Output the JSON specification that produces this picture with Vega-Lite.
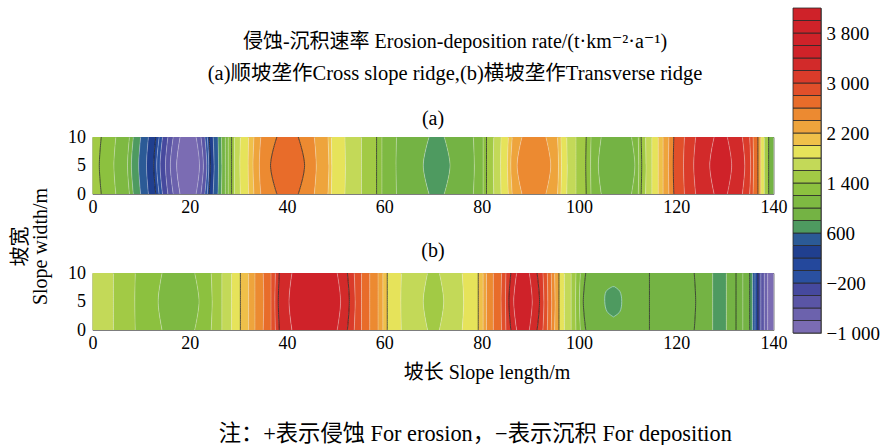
{
"$schema":"https://vega.github.io/schema/vega-lite/v6.json",
"padding":{"left":10,"top":7,"right":0,"bottom":0},
"config":{
 "font":"Liberation Serif, Noto Sans CJK SC, DejaVu Serif",
 "view":{"stroke":"#7d7d7d","strokeWidth":1},
 "axis":{"labelFont":"Liberation Serif, Noto Sans CJK SC, DejaVu Serif","labelFontSize":18,"labelColor":"#000","titleFont":"Liberation Serif, Noto Sans CJK SC, DejaVu Serif","titleFontSize":20,"titleFontWeight":"normal","titleColor":"#000","grid":false,"ticks":false,"tickSize":0,"domain":false,"labelPadding":4,"labelFlush":false},
 "title":{"font":"Liberation Serif, Noto Sans CJK SC, DejaVu Serif","fontWeight":"normal","color":"#000","subtitleFont":"Liberation Serif, Noto Sans CJK SC, DejaVu Serif","subtitleColor":"#000"}
},
"title":{"text":"注：+表示侵蚀 For erosion，−表示沉积 For deposition","orient":"bottom","anchor":"middle","fontSize":22.3,"offset":40,"dx":30},
"datasets":{
"a":[
{"b":0,"y":0,"x":0,"v":1400,"c":"n"},{"b":0,"y":5,"x":0,"v":1400,"c":"n"},{"b":0,"y":10,"x":0,"v":1400,"c":"n"},
{"b":1,"y":0,"x":1.8,"v":1200,"c":"k"},{"b":1,"y":5,"x":1.4,"v":1200,"c":"k"},{"b":1,"y":10,"x":1.8,"v":1200,"c":"k"},
{"b":2,"y":0,"x":4.8,"v":1000,"c":"l"},{"b":2,"y":5,"x":4.4,"v":1000,"c":"l"},{"b":2,"y":10,"x":4.8,"v":1000,"c":"l"},
{"b":3,"y":0,"x":7.6,"v":800,"c":"l"},{"b":3,"y":5,"x":7.2,"v":800,"c":"l"},{"b":3,"y":10,"x":7.6,"v":800,"c":"l"},
{"b":4,"y":0,"x":8.4,"v":600,"c":"l"},{"b":4,"y":5,"x":8.0,"v":600,"c":"l"},{"b":4,"y":10,"x":8.4,"v":600,"c":"l"},
{"b":5,"y":0,"x":9.9,"v":400,"c":"l"},{"b":5,"y":5,"x":9.5,"v":400,"c":"l"},{"b":5,"y":10,"x":9.9,"v":400,"c":"l"},
{"b":6,"y":0,"x":11.5,"v":200,"c":"l"},{"b":6,"y":5,"x":11.1,"v":200,"c":"l"},{"b":6,"y":10,"x":11.5,"v":200,"c":"l"},
{"b":7,"y":0,"x":13.0,"v":0,"c":"k"},{"b":7,"y":5,"x":12.6,"v":0,"c":"k"},{"b":7,"y":10,"x":13.0,"v":0,"c":"k"},
{"b":8,"y":0,"x":13.7,"v":-200,"c":"l"},{"b":8,"y":5,"x":13.2,"v":-200,"c":"l"},{"b":8,"y":10,"x":13.7,"v":-200,"c":"l"},
{"b":9,"y":0,"x":14.4,"v":-400,"c":"l"},{"b":9,"y":5,"x":13.9,"v":-400,"c":"l"},{"b":9,"y":10,"x":14.4,"v":-400,"c":"l"},
{"b":10,"y":0,"x":15.5,"v":-600,"c":"l"},{"b":10,"y":5,"x":15.0,"v":-600,"c":"l"},{"b":10,"y":10,"x":15.5,"v":-600,"c":"l"},
{"b":11,"y":0,"x":16.6,"v":-800,"c":"l"},{"b":11,"y":5,"x":16.0,"v":-800,"c":"l"},{"b":11,"y":10,"x":16.6,"v":-800,"c":"l"},
{"b":12,"y":0,"x":18.0,"v":-1000,"c":"l"},{"b":12,"y":5,"x":17.3,"v":-1000,"c":"l"},{"b":12,"y":10,"x":18.0,"v":-1000,"c":"l"},
{"b":13,"y":0,"x":21.3,"v":-800,"c":"l"},{"b":13,"y":5,"x":22.0,"v":-800,"c":"l"},{"b":13,"y":10,"x":21.3,"v":-800,"c":"l"},
{"b":14,"y":0,"x":22.3,"v":-600,"c":"l"},{"b":14,"y":5,"x":22.8,"v":-600,"c":"l"},{"b":14,"y":10,"x":22.3,"v":-600,"c":"l"},
{"b":15,"y":0,"x":23.1,"v":-200,"c":"l"},{"b":15,"y":5,"x":23.5,"v":-200,"c":"l"},{"b":15,"y":10,"x":23.1,"v":-200,"c":"l"},
{"b":16,"y":0,"x":23.6,"v":0,"c":"l"},{"b":16,"y":5,"x":23.9,"v":0,"c":"l"},{"b":16,"y":10,"x":23.6,"v":0,"c":"l"},
{"b":17,"y":0,"x":24.0,"v":200,"c":"k"},{"b":17,"y":5,"x":24.2,"v":200,"c":"k"},{"b":17,"y":10,"x":24.0,"v":200,"c":"k"},
{"b":18,"y":0,"x":24.8,"v":400,"c":"l"},{"b":18,"y":5,"x":25.0,"v":400,"c":"l"},{"b":18,"y":10,"x":24.8,"v":400,"c":"l"},
{"b":19,"y":0,"x":25.8,"v":600,"c":"l"},{"b":19,"y":5,"x":25.9,"v":600,"c":"l"},{"b":19,"y":10,"x":25.8,"v":600,"c":"l"},
{"b":20,"y":0,"x":26.5,"v":800,"c":"l"},{"b":20,"y":5,"x":26.6,"v":800,"c":"l"},{"b":20,"y":10,"x":26.5,"v":800,"c":"l"},
{"b":21,"y":0,"x":27.3,"v":1000,"c":"l"},{"b":21,"y":5,"x":27.3,"v":1000,"c":"l"},{"b":21,"y":10,"x":27.3,"v":1000,"c":"l"},
{"b":22,"y":0,"x":27.9,"v":1200,"c":"l"},{"b":22,"y":5,"x":27.9,"v":1200,"c":"l"},{"b":22,"y":10,"x":27.9,"v":1200,"c":"l"},
{"b":23,"y":0,"x":28.6,"v":1400,"c":"k"},{"b":23,"y":5,"x":28.6,"v":1400,"c":"k"},{"b":23,"y":10,"x":28.6,"v":1400,"c":"k"},
{"b":24,"y":0,"x":29.2,"v":1600,"c":"l"},{"b":24,"y":5,"x":29.2,"v":1600,"c":"l"},{"b":24,"y":10,"x":29.2,"v":1600,"c":"l"},
{"b":25,"y":0,"x":30.4,"v":1800,"c":"l"},{"b":25,"y":5,"x":30.3,"v":1800,"c":"l"},{"b":25,"y":10,"x":30.4,"v":1800,"c":"l"},
{"b":26,"y":0,"x":32.1,"v":2000,"c":"l"},{"b":26,"y":5,"x":32.0,"v":2000,"c":"l"},{"b":26,"y":10,"x":32.1,"v":2000,"c":"l"},
{"b":27,"y":0,"x":33.2,"v":2200,"c":"l"},{"b":27,"y":5,"x":33.0,"v":2200,"c":"l"},{"b":27,"y":10,"x":33.2,"v":2200,"c":"l"},
{"b":28,"y":0,"x":34.6,"v":2400,"c":"l"},{"b":28,"y":5,"x":34.3,"v":2400,"c":"l"},{"b":28,"y":10,"x":34.6,"v":2400,"c":"l"},
{"b":29,"y":0,"x":37.9,"v":2600,"c":"k"},{"b":29,"y":5,"x":36.6,"v":2600,"c":"k"},{"b":29,"y":10,"x":37.9,"v":2600,"c":"k"},
{"b":30,"y":0,"x":42.3,"v":2400,"c":"k"},{"b":30,"y":5,"x":43.6,"v":2400,"c":"k"},{"b":30,"y":10,"x":42.3,"v":2400,"c":"k"},
{"b":31,"y":0,"x":45.6,"v":2200,"c":"l"},{"b":31,"y":5,"x":46.0,"v":2200,"c":"l"},{"b":31,"y":10,"x":45.6,"v":2200,"c":"l"},
{"b":32,"y":0,"x":48.4,"v":2000,"c":"l"},{"b":32,"y":5,"x":48.6,"v":2000,"c":"l"},{"b":32,"y":10,"x":48.4,"v":2000,"c":"l"},
{"b":33,"y":0,"x":49.1,"v":1800,"c":"l"},{"b":33,"y":5,"x":49.2,"v":1800,"c":"l"},{"b":33,"y":10,"x":49.1,"v":1800,"c":"l"},
{"b":34,"y":0,"x":51.9,"v":1600,"c":"l"},{"b":34,"y":5,"x":52.0,"v":1600,"c":"l"},{"b":34,"y":10,"x":51.9,"v":1600,"c":"l"},
{"b":35,"y":0,"x":55.3,"v":1400,"c":"l"},{"b":35,"y":5,"x":55.3,"v":1400,"c":"l"},{"b":35,"y":10,"x":55.3,"v":1400,"c":"l"},
{"b":36,"y":0,"x":58.4,"v":1200,"c":"k"},{"b":36,"y":5,"x":58.4,"v":1200,"c":"k"},{"b":36,"y":10,"x":58.4,"v":1200,"c":"k"},
{"b":37,"y":0,"x":59.5,"v":1000,"c":"l"},{"b":37,"y":5,"x":59.5,"v":1000,"c":"l"},{"b":37,"y":10,"x":59.5,"v":1000,"c":"l"},
{"b":38,"y":0,"x":62.5,"v":800,"c":"l"},{"b":38,"y":5,"x":62.4,"v":800,"c":"l"},{"b":38,"y":10,"x":62.5,"v":800,"c":"l"},
{"b":39,"y":0,"x":69.2,"v":600,"c":"l"},{"b":39,"y":5,"x":68.0,"v":600,"c":"l"},{"b":39,"y":10,"x":69.2,"v":600,"c":"l"},
{"b":40,"y":0,"x":72.3,"v":800,"c":"l"},{"b":40,"y":5,"x":73.5,"v":800,"c":"l"},{"b":40,"y":10,"x":72.3,"v":800,"c":"l"},
{"b":41,"y":0,"x":78.3,"v":1000,"c":"l"},{"b":41,"y":5,"x":78.5,"v":1000,"c":"l"},{"b":41,"y":10,"x":78.3,"v":1000,"c":"l"},
{"b":42,"y":0,"x":80.3,"v":1200,"c":"l"},{"b":42,"y":5,"x":80.3,"v":1200,"c":"l"},{"b":42,"y":10,"x":80.3,"v":1200,"c":"l"},
{"b":43,"y":0,"x":81.0,"v":1400,"c":"k"},{"b":43,"y":5,"x":81.0,"v":1400,"c":"k"},{"b":43,"y":10,"x":81.0,"v":1400,"c":"k"},
{"b":44,"y":0,"x":82.5,"v":1600,"c":"l"},{"b":44,"y":5,"x":82.4,"v":1600,"c":"l"},{"b":44,"y":10,"x":82.5,"v":1600,"c":"l"},
{"b":45,"y":0,"x":84.0,"v":1800,"c":"l"},{"b":45,"y":5,"x":83.9,"v":1800,"c":"l"},{"b":45,"y":10,"x":84.0,"v":1800,"c":"l"},
{"b":46,"y":0,"x":85.5,"v":2000,"c":"l"},{"b":46,"y":5,"x":85.3,"v":2000,"c":"l"},{"b":46,"y":10,"x":85.5,"v":2000,"c":"l"},
{"b":47,"y":0,"x":86.3,"v":2200,"c":"l"},{"b":47,"y":5,"x":86.0,"v":2200,"c":"l"},{"b":47,"y":10,"x":86.3,"v":2200,"c":"l"},
{"b":48,"y":0,"x":88.3,"v":2400,"c":"l"},{"b":48,"y":5,"x":87.3,"v":2400,"c":"l"},{"b":48,"y":10,"x":88.3,"v":2400,"c":"l"},
{"b":49,"y":0,"x":93.2,"v":2200,"c":"l"},{"b":49,"y":5,"x":94.2,"v":2200,"c":"l"},{"b":49,"y":10,"x":93.2,"v":2200,"c":"l"},
{"b":50,"y":0,"x":95.6,"v":2000,"c":"l"},{"b":50,"y":5,"x":95.8,"v":2000,"c":"l"},{"b":50,"y":10,"x":95.6,"v":2000,"c":"l"},
{"b":51,"y":0,"x":96.3,"v":1800,"c":"l"},{"b":51,"y":5,"x":96.4,"v":1800,"c":"l"},{"b":51,"y":10,"x":96.3,"v":1800,"c":"l"},
{"b":52,"y":0,"x":97.5,"v":1600,"c":"l"},{"b":52,"y":5,"x":97.6,"v":1600,"c":"l"},{"b":52,"y":10,"x":97.5,"v":1600,"c":"l"},
{"b":53,"y":0,"x":99.4,"v":1400,"c":"l"},{"b":53,"y":5,"x":99.4,"v":1400,"c":"l"},{"b":53,"y":10,"x":99.4,"v":1400,"c":"l"},
{"b":54,"y":0,"x":101.5,"v":1200,"c":"k"},{"b":54,"y":5,"x":101.4,"v":1200,"c":"k"},{"b":54,"y":10,"x":101.5,"v":1200,"c":"k"},
{"b":55,"y":0,"x":102.5,"v":1000,"c":"l"},{"b":55,"y":5,"x":102.4,"v":1000,"c":"l"},{"b":55,"y":10,"x":102.5,"v":1000,"c":"l"},
{"b":56,"y":0,"x":104.6,"v":800,"c":"l"},{"b":56,"y":5,"x":104.0,"v":800,"c":"l"},{"b":56,"y":10,"x":104.6,"v":800,"c":"l"},
{"b":57,"y":0,"x":110.8,"v":1000,"c":"l"},{"b":57,"y":5,"x":111.5,"v":1000,"c":"l"},{"b":57,"y":10,"x":110.8,"v":1000,"c":"l"},
{"b":58,"y":0,"x":112.2,"v":1200,"c":"l"},{"b":58,"y":5,"x":112.3,"v":1200,"c":"l"},{"b":58,"y":10,"x":112.2,"v":1200,"c":"l"},
{"b":59,"y":0,"x":112.8,"v":1400,"c":"k"},{"b":59,"y":5,"x":112.9,"v":1400,"c":"k"},{"b":59,"y":10,"x":112.8,"v":1400,"c":"k"},
{"b":60,"y":0,"x":113.7,"v":1600,"c":"l"},{"b":60,"y":5,"x":113.8,"v":1600,"c":"l"},{"b":60,"y":10,"x":113.7,"v":1600,"c":"l"},
{"b":61,"y":0,"x":115.0,"v":1800,"c":"l"},{"b":61,"y":5,"x":115.0,"v":1800,"c":"l"},{"b":61,"y":10,"x":115.0,"v":1800,"c":"l"},
{"b":62,"y":0,"x":116.3,"v":2000,"c":"l"},{"b":62,"y":5,"x":116.3,"v":2000,"c":"l"},{"b":62,"y":10,"x":116.3,"v":2000,"c":"l"},
{"b":63,"y":0,"x":117.3,"v":2200,"c":"l"},{"b":63,"y":5,"x":117.3,"v":2200,"c":"l"},{"b":63,"y":10,"x":117.3,"v":2200,"c":"l"},
{"b":64,"y":0,"x":118.5,"v":2400,"c":"l"},{"b":64,"y":5,"x":118.4,"v":2400,"c":"l"},{"b":64,"y":10,"x":118.5,"v":2400,"c":"l"},
{"b":65,"y":0,"x":119.5,"v":2800,"c":"k"},{"b":65,"y":5,"x":119.4,"v":2800,"c":"k"},{"b":65,"y":10,"x":119.5,"v":2800,"c":"k"},
{"b":66,"y":0,"x":121.7,"v":3000,"c":"l"},{"b":66,"y":5,"x":121.5,"v":3000,"c":"l"},{"b":66,"y":10,"x":121.7,"v":3000,"c":"l"},
{"b":67,"y":0,"x":124.0,"v":3200,"c":"l"},{"b":67,"y":5,"x":123.6,"v":3200,"c":"l"},{"b":67,"y":10,"x":124.0,"v":3200,"c":"l"},
{"b":68,"y":0,"x":127.8,"v":3400,"c":"l"},{"b":68,"y":5,"x":126.9,"v":3400,"c":"l"},{"b":68,"y":10,"x":127.8,"v":3400,"c":"l"},
{"b":69,"y":0,"x":130.5,"v":3200,"c":"l"},{"b":69,"y":5,"x":131.4,"v":3200,"c":"l"},{"b":69,"y":10,"x":130.5,"v":3200,"c":"l"},
{"b":70,"y":0,"x":133.6,"v":3000,"c":"l"},{"b":70,"y":5,"x":134.1,"v":3000,"c":"l"},{"b":70,"y":10,"x":133.6,"v":3000,"c":"l"},
{"b":71,"y":0,"x":135.1,"v":2800,"c":"l"},{"b":71,"y":5,"x":135.3,"v":2800,"c":"l"},{"b":71,"y":10,"x":135.1,"v":2800,"c":"l"},
{"b":72,"y":0,"x":135.8,"v":2600,"c":"l"},{"b":72,"y":5,"x":135.9,"v":2600,"c":"l"},{"b":72,"y":10,"x":135.8,"v":2600,"c":"l"},
{"b":73,"y":0,"x":136.8,"v":2200,"c":"k"},{"b":73,"y":5,"x":136.8,"v":2200,"c":"k"},{"b":73,"y":10,"x":136.8,"v":2200,"c":"k"},
{"b":74,"y":0,"x":137.4,"v":1800,"c":"l"},{"b":74,"y":5,"x":137.4,"v":1800,"c":"l"},{"b":74,"y":10,"x":137.4,"v":1800,"c":"l"},
{"b":75,"y":0,"x":138.1,"v":1400,"c":"l"},{"b":75,"y":5,"x":138.1,"v":1400,"c":"l"},{"b":75,"y":10,"x":138.1,"v":1400,"c":"l"},
{"b":76,"y":0,"x":139.0,"v":800,"c":"k"},{"b":76,"y":5,"x":139.0,"v":800,"c":"k"},{"b":76,"y":10,"x":139.0,"v":800,"c":"k"},
{"b":77,"y":0,"x":140,"v":800,"c":"n"},{"b":77,"y":5,"x":140,"v":800,"c":"n"},{"b":77,"y":10,"x":140,"v":800,"c":"n"}
],
"b":[
{"b":0,"y":0,"x":0,"v":1600,"c":"n"},{"b":0,"y":5,"x":0,"v":1600,"c":"n"},{"b":0,"y":10,"x":0,"v":1600,"c":"n"},
{"b":1,"y":0,"x":4.3,"v":1400,"c":"l"},{"b":1,"y":5,"x":4.3,"v":1400,"c":"l"},{"b":1,"y":10,"x":4.3,"v":1400,"c":"l"},
{"b":2,"y":0,"x":8.8,"v":1200,"c":"l"},{"b":2,"y":5,"x":8.7,"v":1200,"c":"l"},{"b":2,"y":10,"x":8.8,"v":1200,"c":"l"},
{"b":3,"y":0,"x":14.3,"v":1000,"c":"l"},{"b":3,"y":5,"x":13.5,"v":1000,"c":"l"},{"b":3,"y":10,"x":14.3,"v":1000,"c":"l"},
{"b":4,"y":0,"x":21.0,"v":1200,"c":"l"},{"b":4,"y":5,"x":21.9,"v":1200,"c":"l"},{"b":4,"y":10,"x":21.0,"v":1200,"c":"l"},
{"b":5,"y":0,"x":24.4,"v":1400,"c":"l"},{"b":5,"y":5,"x":24.6,"v":1400,"c":"l"},{"b":5,"y":10,"x":24.4,"v":1400,"c":"l"},
{"b":6,"y":0,"x":26.6,"v":1600,"c":"l"},{"b":6,"y":5,"x":26.6,"v":1600,"c":"l"},{"b":6,"y":10,"x":26.6,"v":1600,"c":"l"},
{"b":7,"y":0,"x":28.6,"v":1800,"c":"l"},{"b":7,"y":5,"x":28.6,"v":1800,"c":"l"},{"b":7,"y":10,"x":28.6,"v":1800,"c":"l"},
{"b":8,"y":0,"x":30.4,"v":2000,"c":"k"},{"b":8,"y":5,"x":30.4,"v":2000,"c":"k"},{"b":8,"y":10,"x":30.4,"v":2000,"c":"k"},
{"b":9,"y":0,"x":32.1,"v":2200,"c":"l"},{"b":9,"y":5,"x":32.1,"v":2200,"c":"l"},{"b":9,"y":10,"x":32.1,"v":2200,"c":"l"},
{"b":10,"y":0,"x":33.4,"v":2400,"c":"l"},{"b":10,"y":5,"x":33.4,"v":2400,"c":"l"},{"b":10,"y":10,"x":33.4,"v":2400,"c":"l"},
{"b":11,"y":0,"x":35.1,"v":2600,"c":"l"},{"b":11,"y":5,"x":35.2,"v":2600,"c":"l"},{"b":11,"y":10,"x":35.1,"v":2600,"c":"l"},
{"b":12,"y":0,"x":36.7,"v":2800,"c":"l"},{"b":12,"y":5,"x":36.7,"v":2800,"c":"l"},{"b":12,"y":10,"x":36.7,"v":2800,"c":"l"},
{"b":13,"y":0,"x":37.6,"v":3000,"c":"l"},{"b":13,"y":5,"x":37.5,"v":3000,"c":"l"},{"b":13,"y":10,"x":37.6,"v":3000,"c":"l"},
{"b":14,"y":0,"x":38.4,"v":3200,"c":"k"},{"b":14,"y":5,"x":38.2,"v":3200,"c":"k"},{"b":14,"y":10,"x":38.4,"v":3200,"c":"k"},
{"b":15,"y":0,"x":41.0,"v":3400,"c":"l"},{"b":15,"y":5,"x":40.4,"v":3400,"c":"l"},{"b":15,"y":10,"x":41.0,"v":3400,"c":"l"},
{"b":16,"y":0,"x":50.3,"v":3200,"c":"l"},{"b":16,"y":5,"x":51.0,"v":3200,"c":"l"},{"b":16,"y":10,"x":50.3,"v":3200,"c":"l"},
{"b":17,"y":0,"x":52.4,"v":3000,"c":"k"},{"b":17,"y":5,"x":52.8,"v":3000,"c":"k"},{"b":17,"y":10,"x":52.4,"v":3000,"c":"k"},
{"b":18,"y":0,"x":53.8,"v":2800,"c":"l"},{"b":18,"y":5,"x":54.0,"v":2800,"c":"l"},{"b":18,"y":10,"x":53.8,"v":2800,"c":"l"},
{"b":19,"y":0,"x":55.3,"v":2600,"c":"l"},{"b":19,"y":5,"x":55.3,"v":2600,"c":"l"},{"b":19,"y":10,"x":55.3,"v":2600,"c":"l"},
{"b":20,"y":0,"x":57.0,"v":2400,"c":"l"},{"b":20,"y":5,"x":57.0,"v":2400,"c":"l"},{"b":20,"y":10,"x":57.0,"v":2400,"c":"l"},
{"b":21,"y":0,"x":58.7,"v":2200,"c":"l"},{"b":21,"y":5,"x":58.7,"v":2200,"c":"l"},{"b":21,"y":10,"x":58.7,"v":2200,"c":"l"},
{"b":22,"y":0,"x":59.7,"v":2000,"c":"l"},{"b":22,"y":5,"x":59.7,"v":2000,"c":"l"},{"b":22,"y":10,"x":59.7,"v":2000,"c":"l"},
{"b":23,"y":0,"x":60.6,"v":1800,"c":"k"},{"b":23,"y":5,"x":60.6,"v":1800,"c":"k"},{"b":23,"y":10,"x":60.6,"v":1800,"c":"k"},
{"b":24,"y":0,"x":63.5,"v":1600,"c":"l"},{"b":24,"y":5,"x":63.4,"v":1600,"c":"l"},{"b":24,"y":10,"x":63.5,"v":1600,"c":"l"},
{"b":25,"y":0,"x":68.9,"v":1400,"c":"l"},{"b":25,"y":5,"x":68.0,"v":1400,"c":"l"},{"b":25,"y":10,"x":68.9,"v":1400,"c":"l"},
{"b":26,"y":0,"x":71.3,"v":1600,"c":"l"},{"b":26,"y":5,"x":72.2,"v":1600,"c":"l"},{"b":26,"y":10,"x":71.3,"v":1600,"c":"l"},
{"b":27,"y":0,"x":76.0,"v":1800,"c":"l"},{"b":27,"y":5,"x":76.3,"v":1800,"c":"l"},{"b":27,"y":10,"x":76.0,"v":1800,"c":"l"},
{"b":28,"y":0,"x":79.3,"v":2000,"c":"k"},{"b":28,"y":5,"x":79.3,"v":2000,"c":"k"},{"b":28,"y":10,"x":79.3,"v":2000,"c":"k"},
{"b":29,"y":0,"x":80.3,"v":2200,"c":"l"},{"b":29,"y":5,"x":80.3,"v":2200,"c":"l"},{"b":29,"y":10,"x":80.3,"v":2200,"c":"l"},
{"b":30,"y":0,"x":81.0,"v":2400,"c":"l"},{"b":30,"y":5,"x":81.0,"v":2400,"c":"l"},{"b":30,"y":10,"x":81.0,"v":2400,"c":"l"},
{"b":31,"y":0,"x":82.4,"v":2600,"c":"l"},{"b":31,"y":5,"x":82.4,"v":2600,"c":"l"},{"b":31,"y":10,"x":82.4,"v":2600,"c":"l"},
{"b":32,"y":0,"x":84.1,"v":2800,"c":"l"},{"b":32,"y":5,"x":84.0,"v":2800,"c":"l"},{"b":32,"y":10,"x":84.1,"v":2800,"c":"l"},
{"b":33,"y":0,"x":85.0,"v":3000,"c":"l"},{"b":33,"y":5,"x":84.9,"v":3000,"c":"l"},{"b":33,"y":10,"x":85.0,"v":3000,"c":"l"},
{"b":34,"y":0,"x":86.0,"v":3200,"c":"k"},{"b":34,"y":5,"x":85.6,"v":3200,"c":"k"},{"b":34,"y":10,"x":86.0,"v":3200,"c":"k"},
{"b":35,"y":0,"x":87.2,"v":3400,"c":"l"},{"b":35,"y":5,"x":86.6,"v":3400,"c":"l"},{"b":35,"y":10,"x":87.2,"v":3400,"c":"l"},
{"b":36,"y":0,"x":89.8,"v":3200,"c":"l"},{"b":36,"y":5,"x":90.4,"v":3200,"c":"l"},{"b":36,"y":10,"x":89.8,"v":3200,"c":"l"},
{"b":37,"y":0,"x":91.4,"v":3000,"c":"k"},{"b":37,"y":5,"x":91.9,"v":3000,"c":"k"},{"b":37,"y":10,"x":91.4,"v":3000,"c":"k"},
{"b":38,"y":0,"x":92.6,"v":2800,"c":"l"},{"b":38,"y":5,"x":92.8,"v":2800,"c":"l"},{"b":38,"y":10,"x":92.6,"v":2800,"c":"l"},
{"b":39,"y":0,"x":93.5,"v":2600,"c":"l"},{"b":39,"y":5,"x":93.6,"v":2600,"c":"l"},{"b":39,"y":10,"x":93.5,"v":2600,"c":"l"},
{"b":40,"y":0,"x":94.3,"v":2400,"c":"l"},{"b":40,"y":5,"x":94.4,"v":2400,"c":"l"},{"b":40,"y":10,"x":94.3,"v":2400,"c":"l"},
{"b":41,"y":0,"x":95.0,"v":2200,"c":"l"},{"b":41,"y":5,"x":95.1,"v":2200,"c":"l"},{"b":41,"y":10,"x":95.0,"v":2200,"c":"l"},
{"b":42,"y":0,"x":95.9,"v":1800,"c":"k"},{"b":42,"y":5,"x":95.9,"v":1800,"c":"k"},{"b":42,"y":10,"x":95.9,"v":1800,"c":"k"},
{"b":43,"y":0,"x":97.0,"v":1600,"c":"l"},{"b":43,"y":5,"x":97.0,"v":1600,"c":"l"},{"b":43,"y":10,"x":97.0,"v":1600,"c":"l"},
{"b":44,"y":0,"x":98.4,"v":1400,"c":"l"},{"b":44,"y":5,"x":98.4,"v":1400,"c":"l"},{"b":44,"y":10,"x":98.4,"v":1400,"c":"l"},
{"b":45,"y":0,"x":99.4,"v":1200,"c":"l"},{"b":45,"y":5,"x":99.3,"v":1200,"c":"l"},{"b":45,"y":10,"x":99.4,"v":1200,"c":"l"},
{"b":46,"y":0,"x":100.3,"v":1000,"c":"l"},{"b":46,"y":5,"x":100.1,"v":1000,"c":"l"},{"b":46,"y":10,"x":100.3,"v":1000,"c":"l"},
{"b":47,"y":0,"x":101.4,"v":800,"c":"k"},{"b":47,"y":5,"x":100.9,"v":800,"c":"k"},{"b":47,"y":10,"x":101.4,"v":800,"c":"k"},
{"b":48,"y":0,"x":114.5,"v":800,"c":"k"},{"b":48,"y":5,"x":114.5,"v":800,"c":"k"},{"b":48,"y":10,"x":114.5,"v":800,"c":"k"},
{"b":49,"y":0,"x":123.7,"v":800,"c":"k"},{"b":49,"y":5,"x":124.0,"v":800,"c":"k"},{"b":49,"y":10,"x":123.7,"v":800,"c":"k"},
{"b":50,"y":0,"x":127.5,"v":600,"c":"l"},{"b":50,"y":5,"x":127.5,"v":600,"c":"l"},{"b":50,"y":10,"x":127.5,"v":600,"c":"l"},
{"b":51,"y":0,"x":130.3,"v":800,"c":"l"},{"b":51,"y":5,"x":130.3,"v":800,"c":"l"},{"b":51,"y":10,"x":130.3,"v":800,"c":"l"},
{"b":52,"y":0,"x":132.3,"v":800,"c":"k"},{"b":52,"y":5,"x":132.3,"v":800,"c":"k"},{"b":52,"y":10,"x":132.3,"v":800,"c":"k"},
{"b":53,"y":0,"x":133.7,"v":800,"c":"l"},{"b":53,"y":5,"x":133.7,"v":800,"c":"l"},{"b":53,"y":10,"x":133.7,"v":800,"c":"l"},
{"b":54,"y":0,"x":135.1,"v":600,"c":"k"},{"b":54,"y":5,"x":135.1,"v":600,"c":"k"},{"b":54,"y":10,"x":135.1,"v":600,"c":"k"},
{"b":55,"y":0,"x":135.7,"v":400,"c":"l"},{"b":55,"y":5,"x":135.7,"v":400,"c":"l"},{"b":55,"y":10,"x":135.7,"v":400,"c":"l"},
{"b":56,"y":0,"x":136.2,"v":0,"c":"l"},{"b":56,"y":5,"x":136.2,"v":0,"c":"l"},{"b":56,"y":10,"x":136.2,"v":0,"c":"l"},
{"b":57,"y":0,"x":136.8,"v":-400,"c":"k"},{"b":57,"y":5,"x":136.8,"v":-400,"c":"k"},{"b":57,"y":10,"x":136.8,"v":-400,"c":"k"},
{"b":58,"y":0,"x":137.4,"v":-600,"c":"l"},{"b":58,"y":5,"x":137.4,"v":-600,"c":"l"},{"b":58,"y":10,"x":137.4,"v":-600,"c":"l"},
{"b":59,"y":0,"x":138.1,"v":-800,"c":"l"},{"b":59,"y":5,"x":138.1,"v":-800,"c":"l"},{"b":59,"y":10,"x":138.1,"v":-800,"c":"l"},
{"b":60,"y":0,"x":138.8,"v":-1000,"c":"l"},{"b":60,"y":5,"x":138.8,"v":-1000,"c":"l"},{"b":60,"y":10,"x":138.8,"v":-1000,"c":"l"},
{"b":61,"y":0,"x":140,"v":-1000,"c":"n"},{"b":61,"y":5,"x":140,"v":-1000,"c":"n"},{"b":61,"y":10,"x":140,"v":-1000,"c":"n"}
],
"blob":[
{"y":2.3,"x":107.1,"x2":107.1,"v":600},{"y":3.2,"x":105.8,"x2":108.4,"v":600},{"y":5,"x":105.3,"x2":108.8,"v":600},{"y":6.8,"x":105.6,"x2":108.4,"v":600},{"y":7.6,"x":106.9,"x2":107.3,"v":600}
],
"bar":[
{"lo":-1000,"hi":-800},{"lo":-800,"hi":-600},{"lo":-600,"hi":-400},{"lo":-400,"hi":-200},{"lo":-200,"hi":0},{"lo":0,"hi":200},{"lo":200,"hi":400},{"lo":400,"hi":600},{"lo":600,"hi":800},{"lo":800,"hi":1000},{"lo":1000,"hi":1200},{"lo":1200,"hi":1400},{"lo":1400,"hi":1600},{"lo":1600,"hi":1800},{"lo":1800,"hi":2000},{"lo":2000,"hi":2200},{"lo":2200,"hi":2400},{"lo":2400,"hi":2600},{"lo":2600,"hi":2800},{"lo":2800,"hi":3000},{"lo":3000,"hi":3200},{"lo":3200,"hi":3400},{"lo":3400,"hi":3600},{"lo":3600,"hi":3800},{"lo":3800,"hi":4000},{"lo":4000,"hi":4200}
]
},
"hconcat":[
{
 "width":1,"height":1,
 "view":{"stroke":null},
 "data":{"values":[]},
 "mark":{"type":"point","opacity":0},
 "encoding":{"y":{"field":"q","type":"quantitative","scale":{"domain":[0,1]},"axis":{"labels":false,"ticks":false,"domain":false,"title":["坡宽","Slope width/m"],"titleY":238,"titlePadding":10.5,"titleLineHeight":20}}}
},
{
 "vconcat":[
  {
   "width":681,"height":1,
   "view":{"stroke":null},
   "data":{"values":[]},
   "mark":{"type":"point","opacity":0},
   "encoding":{},
   "title":{"text":"侵蚀-沉积速率 Erosion-deposition rate/(t·km⁻²·a⁻¹)","subtitle":"(a)顺坡垄作Cross slope ridge,(b)横坡垄作Transverse ridge","orient":"bottom","fontSize":20,"subtitleFontSize":20.5,"subtitlePadding":12,"offset":23,"anchor":"middle","frame":"group","dx":22}
  },
  {
   "width":681,"height":57,
   "title":{"text":"(a)","fontSize":20,"offset":-1,"frame":"group","anchor":"middle"},
   "data":{"name":"a"},
   "encoding":{
    "x":{"field":"x","type":"quantitative","scale":{"domain":[0,140],"nice":false,"zero":false},"axis":{"values":[0,20,40,60,80,100,120,140],"title":null,"labelPadding":4}},
    "y":{"field":"y","type":"quantitative","scale":{"domain":[0,10],"nice":false,"zero":false},"axis":{"values":[0,5,10],"title":null,"labelPadding":7}}
   },
   "layer":[
    {"transform":[{"window":[{"op":"lead","field":"x","as":"x2"}],"groupby":["y"],"sort":[{"field":"b","order":"ascending"}]},{"filter":"datum.x2 != null"}],
     "mark":{"type":"area","orient":"horizontal","interpolate":"catmull-rom"},
     "encoding":{"x2":{"field":"x2"},"detail":{"field":"b","type":"nominal"},
      "color":{"field":"v","type":"quantitative","legend":null,"scale":{"type":"threshold","domain":[-800,-600,-400,-200,0,200,400,600,800,1000,1200,1400,1600,1800,2000,2200,2400,2600,2800,3000,3200,3400,3600,3800,4000],"range":["#7b6cb3","#6c62ad","#5a55a5","#46499e","#2a50a0","#24489c","#203f8f","#2b5a96","#4e9a60","#74b344","#7eb942","#8cc13f","#a2ca45","#c3d958","#e6e35a","#efc04a","#eea43c","#ec8a31","#e86c2a","#e14f2a","#da3b2a","#d22a2a","#cf2229","#cf2229","#cf2229","#cf2229"]}}}},
    {"transform":[{"filter":"datum.c != 'n'"}],
     "mark":{"type":"line","interpolate":"catmull-rom","strokeWidth":0.8},
     "encoding":{"detail":{"field":"b","type":"nominal"},"order":{"field":"y","type":"quantitative"},
      "stroke":{"field":"c","type":"nominal","legend":null,"scale":{"domain":["k","l"],"range":["#1c1c1c","#eeeeee"]}},
      "strokeOpacity":{"field":"c","type":"nominal","legend":null,"scale":{"domain":["k","l"],"range":[0.9,0.4]}}}}
   ]
  },
  {
   "width":681,"height":57,
   "title":{"text":"(b)","fontSize":20,"offset":3,"frame":"group","anchor":"middle"},
   "encoding":{
    "x":{"field":"x","type":"quantitative","scale":{"domain":[0,140],"nice":false,"zero":false},"axis":{"values":[0,20,40,60,80,100,120,140],"title":"坡长 Slope length/m","titleX":394,"titlePadding":10,"labelPadding":4}},
    "y":{"field":"y","type":"quantitative","scale":{"domain":[0,10],"nice":false,"zero":false},"axis":{"values":[0,5,10],"title":null,"labelPadding":7}}
   },
   "layer":[
    {"data":{"name":"b"},
     "transform":[{"window":[{"op":"lead","field":"x","as":"x2"}],"groupby":["y"],"sort":[{"field":"b","order":"ascending"}]},{"filter":"datum.x2 != null"}],
     "mark":{"type":"area","orient":"horizontal","interpolate":"catmull-rom"},
     "encoding":{"x2":{"field":"x2"},"detail":{"field":"b","type":"nominal"},
      "color":{"field":"v","type":"quantitative","legend":null,"scale":{"type":"threshold","domain":[-800,-600,-400,-200,0,200,400,600,800,1000,1200,1400,1600,1800,2000,2200,2400,2600,2800,3000,3200,3400,3600,3800,4000],"range":["#7b6cb3","#6c62ad","#5a55a5","#46499e","#2a50a0","#24489c","#203f8f","#2b5a96","#4e9a60","#74b344","#7eb942","#8cc13f","#a2ca45","#c3d958","#e6e35a","#efc04a","#eea43c","#ec8a31","#e86c2a","#e14f2a","#da3b2a","#d22a2a","#cf2229","#cf2229","#cf2229","#cf2229"]}}}},
    {"data":{"name":"blob"},
     "mark":{"type":"area","orient":"horizontal","interpolate":"catmull-rom","stroke":"#a6d6c6","strokeWidth":0.8},
     "encoding":{"x2":{"field":"x2"},
      "color":{"field":"v","type":"quantitative","legend":null,"scale":{"type":"threshold","domain":[-800,-600,-400,-200,0,200,400,600,800,1000,1200,1400,1600,1800,2000,2200,2400,2600,2800,3000,3200,3400,3600,3800,4000],"range":["#7b6cb3","#6c62ad","#5a55a5","#46499e","#2a50a0","#24489c","#203f8f","#2b5a96","#4e9a60","#74b344","#7eb942","#8cc13f","#a2ca45","#c3d958","#e6e35a","#efc04a","#eea43c","#ec8a31","#e86c2a","#e14f2a","#da3b2a","#d22a2a","#cf2229","#cf2229","#cf2229","#cf2229"]}}}},
    {"data":{"name":"b"},
     "transform":[{"filter":"datum.c != 'n'"}],
     "mark":{"type":"line","interpolate":"catmull-rom","strokeWidth":0.8},
     "encoding":{"detail":{"field":"b","type":"nominal"},"order":{"field":"y","type":"quantitative"},
      "stroke":{"field":"c","type":"nominal","legend":null,"scale":{"domain":["k","l"],"range":["#1c1c1c","#eeeeee"]}},
      "strokeOpacity":{"field":"c","type":"nominal","legend":null,"scale":{"domain":["k","l"],"range":[0.9,0.4]}}}}
   ]
  }
 ],
 "spacing":23
},
{
 "width":28,"height":325,
 "data":{"name":"bar"},
 "mark":{"type":"rect","stroke":"#2a2a2a","strokeWidth":0.8},
 "encoding":{
  "x":{"datum":0,"type":"quantitative","scale":{"domain":[0,1],"nice":false},"axis":null},
  "x2":{"datum":1},
  "y":{"field":"lo","type":"quantitative","scale":{"domain":[-1000,4200],"nice":false,"zero":false},"axis":{"orient":"right","values":[-1000,-200,600,1400,2200,3000,3800],"labelExpr":"replace(format(datum.value, ','), ',', ' ')","title":null,"labelPadding":5,"labelFontSize":19}},
  "y2":{"field":"hi"},
  "color":{"field":"lo","type":"quantitative","legend":null,"scale":{"type":"threshold","domain":[-800,-600,-400,-200,0,200,400,600,800,1000,1200,1400,1600,1800,2000,2200,2400,2600,2800,3000,3200,3400,3600,3800,4000],"range":["#7b6cb3","#6c62ad","#5a55a5","#46499e","#2a50a0","#24489c","#203f8f","#2b5a96","#4e9a60","#74b344","#7eb942","#8cc13f","#a2ca45","#c3d958","#e6e35a","#efc04a","#eea43c","#ec8a31","#e86c2a","#e14f2a","#da3b2a","#d22a2a","#cf2229","#cf2229","#cf2229","#cf2229"]}}
 }
}
],
"spacing":4.5
}
